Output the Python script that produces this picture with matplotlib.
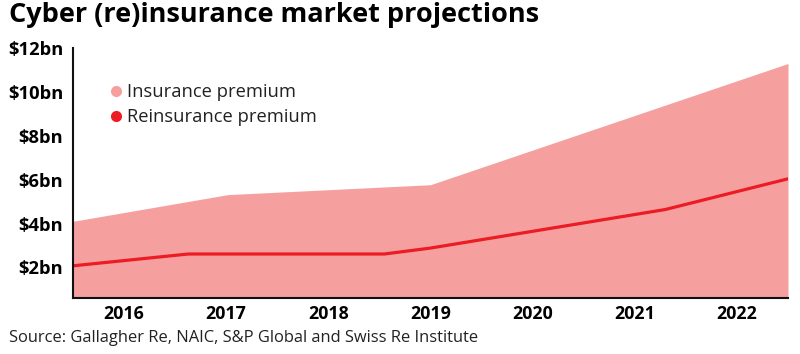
import numpy as np
import matplotlib.pyplot as plt
from matplotlib.lines import Line2D

plt.rcParams['font.family'] = ['Open Sans', 'DejaVu Sans']

# data (x in year units, bands centred on each year)
years = [2016, 2017, 2018, 2019, 2020, 2021, 2022]
ins_x = [2015.5, 2017.02, 2019.0, 2022.5]
ins_y = [4.10, 5.32, 5.77, 11.3]
re_x = [2015.5, 2016.63, 2018.55, 2019.0, 2021.3, 2022.5]
re_y = [2.07, 2.61, 2.61, 2.88, 4.64, 6.04]
ytick_vals = [2, 4, 6, 8, 10, 12]
ytick_labels = ['$2bn', '$4bn', '$6bn', '$8bn', '$10bn', '$12bn']

area_col = '#f5a09f'
line_col = '#ec1c24'

fig = plt.figure(figsize=(8, 3.54), dpi=100)
ax = fig.add_axes([0.091, 0.158, 0.894, 0.706])

ax.fill_between(ins_x, 0, ins_y, color=area_col, linewidth=0)
ax.plot(re_x, re_y, color=line_col, linewidth=2.3, solid_joinstyle='round')

ax.set_xlim(2015.5, 2022.5)
ax.set_ylim(0.6, 11.87)
ax.set_xticks(years)
ax.set_xticklabels([str(y) for y in years], fontsize=12.8, fontweight='bold')
ax.set_yticks(ytick_vals)
ax.set_yticklabels(ytick_labels, fontsize=13.2, fontweight='bold')
ax.tick_params(length=0)
ax.tick_params(axis='x', pad=5)
ax.tick_params(axis='y', pad=7)

for s in ['top', 'right']:
    ax.spines[s].set_visible(False)
for s in ['left', 'bottom']:
    ax.spines[s].set_linewidth(1.5)
    ax.spines[s].set_color('#111111')

handles = [
    Line2D([], [], marker='o', linestyle='none', markersize=7, color=area_col),
    Line2D([], [], marker='o', linestyle='none', markersize=7, color=line_col),
]
ax.legend(handles, ['Insurance premium', 'Reinsurance premium'],
          loc='upper left', bbox_to_anchor=(0.024, 0.925), frameon=False,
          fontsize=13.2, handletextpad=0.1, labelspacing=0.38,
          handlelength=1.0, labelcolor='#222222')

fig.text(0.011, 0.958, 'Cyber (re)insurance market projections',
         fontsize=19.5, fontweight='bold', va='center', ha='left')
fig.text(0.011, 0.045, 'Source: Gallagher Re, NAIC, S&P Global and Swiss Re Institute',
         fontsize=11.9, va='center', ha='left', color='#222222')

fig.savefig('out.png', dpi=100)
